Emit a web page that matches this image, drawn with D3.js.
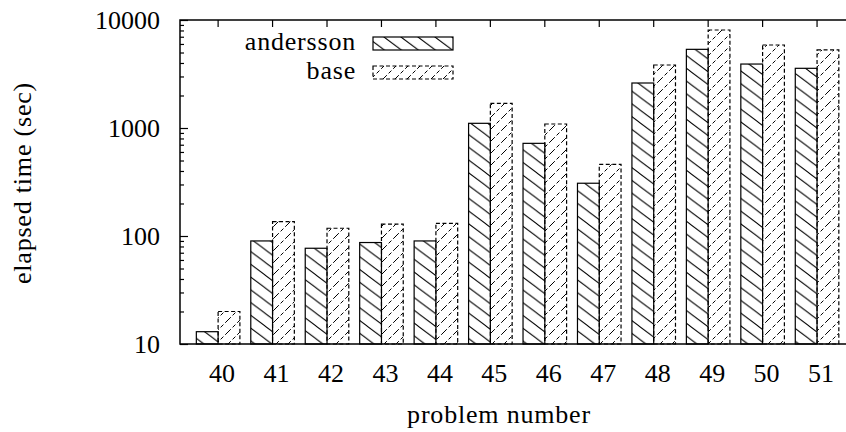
<!DOCTYPE html>
<html>
<head>
<meta charset="utf-8">
<script src="https://cdn.jsdelivr.net/npm/d3@7"></script>
</head>
<body style="margin:0">
<div id="chart"></div>
<script>
// data
var problems = ["40", "41", "42", "43", "44", "45", "46", "47", "48", "49", "50", "51"];
var andersson = [13, 90, 77, 87, 90, 1105, 721, 308, 2610, 5350, 3910, 3570];
var base = [20, 136, 118, 129, 131, 1690, 1089, 461, 3830, 8080, 5870, 5280];
var seriesNames = ["andersson", "base"];
var yTickValues = [10, 100, 1000, 10000];

var svgWidth = 846;
var svgHeight = 432;
var fontFamily = "\"Liberation Serif\"";

var margin = {
  top: 20,
  right: -1,
  bottom: 88,
  left: 180
};

var width = svgWidth - margin.left - margin.right;
var height = svgHeight - margin.top - margin.bottom;

var svg = d3.select("#chart")
  .append("svg")
  .attr("width", svgWidth)
  .attr("height", svgHeight);

// hatch patterns
var defs = svg.append("defs");
var pA = defs.append("pattern")
  .attr("id", "hatchA")
  .attr("patternUnits", "userSpaceOnUse")
  .attr("width", 17)
  .attr("height", 12.75);
pA.append("path")
  .attr("d", "M-17,-12.75L34,25.5M-17,0L17,25.5M0,-12.75L34,12.75")
  .attr("stroke", "#000")
  .attr("stroke-width", 1);

var pB = defs.append("pattern")
  .attr("id", "hatchB")
  .attr("patternUnits", "userSpaceOnUse")
  .attr("width", 12)
  .attr("height", 12);
pB.append("path")
  .attr("d", "M0,12L12,0")
  .attr("stroke", "#000")
  .attr("stroke-width", 1)
  .attr("stroke-dasharray", "4,2.5");

var chartGroup = svg.append("g")
  .attr("transform", `translate(${margin.left}, ${margin.top})`);

var xScale = d3.scaleLinear()
  .domain([-0.7, problems.length - 0.45])
  .range([0, width]);

var yScale = d3.scaleLog()
  .domain([10, 10000])
  .range([height, 0]);

var barW = xScale(0.4) - xScale(0);

// base bars first, andersson on top so the shared edge stays solid
chartGroup.selectAll(".bar-base")
  .data(base)
  .enter()
  .append("rect")
  .attr("class", "bar-base")
  .attr("x", (d, i) => xScale(i))
  .attr("y", d => yScale(d))
  .attr("width", barW)
  .attr("height", d => height - yScale(d))
  .attr("fill", "url(#hatchB)")
  .attr("stroke", "#000")
  .attr("stroke-width", 1.2)
  .attr("stroke-dasharray", "4,2.5");

chartGroup.selectAll(".bar-and")
  .data(andersson)
  .enter()
  .append("rect")
  .attr("class", "bar-and")
  .attr("x", (d, i) => xScale(i) - barW)
  .attr("y", d => yScale(d))
  .attr("width", barW)
  .attr("height", d => height - yScale(d))
  .attr("fill", "url(#hatchA)")
  .attr("stroke", "#000")
  .attr("stroke-width", 1.2);

// left axis: major + minor ticks pointing inward
var minorTicks = [];
yTickValues.slice(0, -1).forEach(function(v) {
  for (var k = 2; k <= 9; k++) minorTicks.push(v * k);
});

chartGroup.append("g")
  .call(d3.axisRight(yScale).tickValues(yTickValues).tickSize(8).tickFormat(""))
  .call(g => g.select(".domain").remove());

chartGroup.append("g")
  .call(d3.axisRight(yScale).tickValues(minorTicks).tickSize(4).tickFormat(""))
  .call(g => g.select(".domain").remove());

chartGroup.selectAll(".tick line").attr("stroke-width", 1.2);

// top ticks (mirror of x ticks)
chartGroup.selectAll(".xtop")
  .data(problems)
  .enter()
  .append("line")
  .attr("x1", (d, i) => xScale(i))
  .attr("x2", (d, i) => xScale(i))
  .attr("y1", 0)
  .attr("y2", 7)
  .attr("stroke", "#000")
  .attr("stroke-width", 1.2);

// frame
chartGroup.append("path")
  .attr("d", `M${width + 5},0H0V${height}H${width + 5}`)
  .attr("fill", "none")
  .attr("stroke", "#000")
  .attr("stroke-width", 1.5);

// legend boxes
var legend = chartGroup.selectAll(".legend")
  .data(seriesNames)
  .enter()
  .append("g")
  .attr("class", "legend")
  .attr("transform", (d, i) => `translate(0, ${17 + i * 29})`);

legend.append("rect")
  .attr("x", 193)
  .attr("y", 0)
  .attr("width", 80)
  .attr("height", 13)
  .attr("fill", (d, i) => i === 0 ? "url(#hatchA)" : "url(#hatchB)")
  .attr("stroke", "#000")
  .attr("stroke-width", 1.2)
  .attr("stroke-dasharray", (d, i) => i === 0 ? null : "4,2.5");

// texts
function serifText(sel, spacing) {
  sel.style("font-family", fontFamily, "important")
    .style("font-size", "26px", "important")
    .style("letter-spacing", spacing ? "0.8px" : null);
  return sel;
}

chartGroup.selectAll(".ylab")
  .data(yTickValues)
  .enter()
  .append("text")
  .attr("class", "ylab")
  .attr("x", -20)
  .attr("y", d => yScale(d))
  .attr("dy", "0.34em")
  .attr("text-anchor", "end")
  .call(serifText, false)
  .text(d => d);

chartGroup.selectAll(".xlab")
  .data(problems)
  .enter()
  .append("text")
  .attr("class", "xlab")
  .attr("x", (d, i) => xScale(i) + 4)
  .attr("y", height + 38)
  .attr("text-anchor", "middle")
  .call(serifText, false)
  .text(d => d);

legend.append("text")
  .attr("x", 176)
  .attr("y", 13)
  .attr("text-anchor", "end")
  .call(serifText, true)
  .text(d => d);

chartGroup.append("text")
  .attr("transform", "rotate(-90)")
  .attr("x", 0 - 163)
  .attr("y", 31 - margin.left)
  .attr("text-anchor", "middle")
  .call(serifText, true)
  .text("elapsed time (sec)");

chartGroup.append("text")
  .attr("x", 319)
  .attr("y", height + 79)
  .attr("text-anchor", "middle")
  .call(serifText, true)
  .text("problem number");
</script>
</body>
</html>
